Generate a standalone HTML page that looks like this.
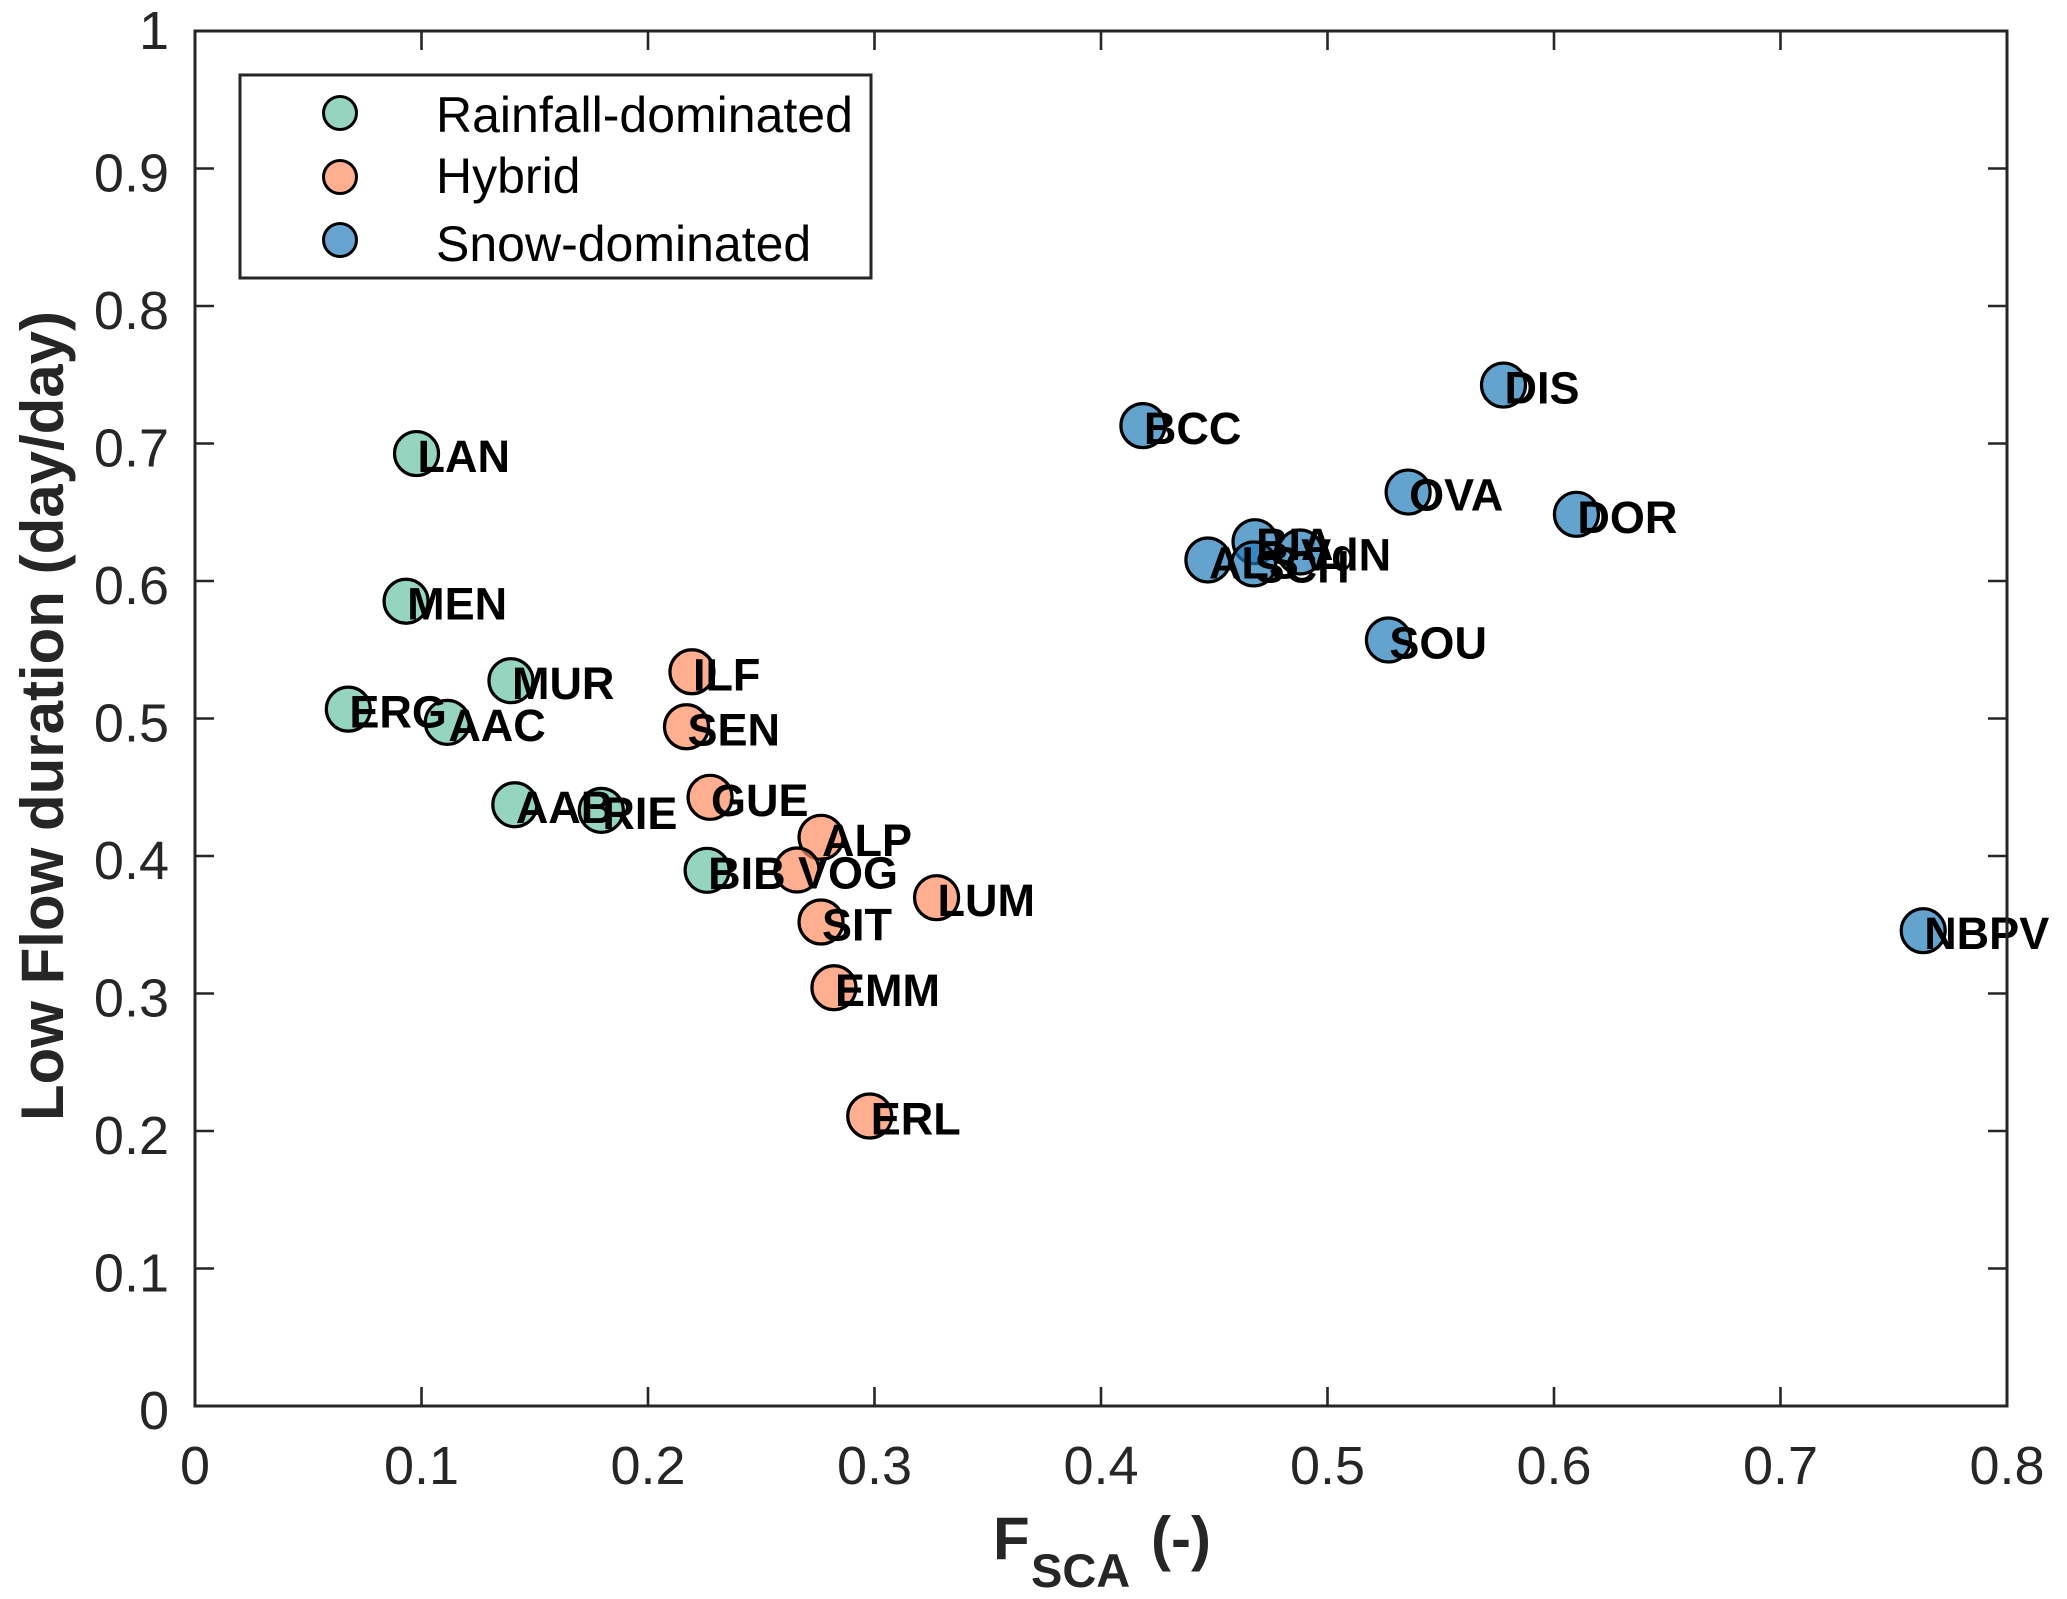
<!DOCTYPE html>
<html lang="en">
<head>
<meta charset="utf-8">
<title>Low Flow duration vs FSCA</title>
<style>
html,body{margin:0;padding:0;background:#fff;}
svg{display:block;font-family:"Liberation Sans",Arial,sans-serif;}
</style>
</head>
<body>
<svg id="chart" xmlns="http://www.w3.org/2000/svg" width="2067" height="1599" viewBox="0 0 2067 1599">
  <rect x="0" y="0" width="2067" height="1599" fill="#ffffff"/>
  <g id="ticks"></g>
  <g id="tick-labels"></g>
  <g id="marks"></g>
  <g id="labels"></g>
  <rect x="195" y="31" width="1812" height="1375" fill="none" stroke="#262626" stroke-width="3"/>
  <text transform="translate(63 716) rotate(-90)" text-anchor="middle" font-size="60" font-weight="700" fill="#262626">Low Flow duration (day/day)</text>
  <g font-weight="700" fill="#262626">
    <text x="993" y="1559" font-size="60">F</text>
    <text x="1031" y="1587" font-size="47">SCA</text>
    <text x="1151" y="1559" font-size="60">(-)</text>
  </g>
  <g>
    <rect x="240" y="75" width="631" height="203" fill="#ffffff" stroke="#262626" stroke-width="3"/>
    <g>
      <circle cx="340" cy="113" r="16.5" fill="#95d5bf" stroke="#000" stroke-width="3"/>
      <text x="436" y="132" font-size="50" fill="#000">Rainfall-dominated</text>
    </g>
    <g>
      <circle cx="340" cy="177" r="16.5" fill="#ffae90" stroke="#000" stroke-width="3"/>
      <text x="436" y="193" font-size="50" fill="#000">Hybrid</text>
    </g>
    <g>
      <circle cx="340" cy="240" r="16.5" fill="#66a3cf" stroke="#000" stroke-width="3"/>
      <text x="436" y="261" font-size="50" fill="#000">Snow-dominated</text>
    </g>
  </g>
</svg>
<script>
const xTickLabels = ['0', '0.1', '0.2', '0.3', '0.4', '0.5', '0.6', '0.7', '0.8'];
const yTickLabels = ['0', '0.1', '0.2', '0.3', '0.4', '0.5', '0.6', '0.7', '0.8', '0.9', '1'];

const rainfallNames = ['LAN', 'MEN', 'MUR', 'ERG', 'AAC', 'AAB', 'RIE', 'BIB'];
const rainfallFsca = [0.0978, 0.0932, 0.1395, 0.0677, 0.1114, 0.1412, 0.1794, 0.2261];
const rainfallLowFlow = [0.6927, 0.5853, 0.5275, 0.5068, 0.4972, 0.4373, 0.4332, 0.3896];

const hybridNames = ['ILF', 'SEN', 'GUE', 'ALP', 'VOG', 'LUM', 'SIT', 'EMM', 'ERL'];
const hybridFsca = [0.2194, 0.217, 0.2274, 0.2764, 0.2658, 0.3274, 0.2764, 0.2821, 0.2979];
const hybridLowFlow = [0.534, 0.494, 0.4427, 0.4136, 0.3898, 0.3697, 0.352, 0.3042, 0.2109];

const snowNames = ['BCC', 'DIS', 'OVA', 'DOR', 'BIA', 'VdN', 'ALS', 'SCH', 'SOU', 'NBPV'];
const snowFsca = [0.4185, 0.5777, 0.5356, 0.6099, 0.468, 0.4879, 0.4472, 0.4674, 0.5269, 0.763];
const snowLowFlow = [0.713, 0.7425, 0.6647, 0.6485, 0.6286, 0.6211, 0.6153, 0.6124, 0.5571, 0.3457];

const NS = 'http://www.w3.org/2000/svg';
const plotLeft = 195, plotRight = 2007, plotTop = 31, plotBottom = 1406;
const xMax = 0.8, yMax = 1;
function xScale(v) { return plotLeft + (v / xMax) * (plotRight - plotLeft); }
function yScale(v) { return plotBottom - (v / yMax) * (plotBottom - plotTop); }

function make(tag, attrs, parent) {
  const el = document.createElementNS(NS, tag);
  for (const k in attrs) el.setAttribute(k, attrs[k]);
  parent.appendChild(el);
  return el;
}

const tickGroup = document.getElementById('ticks');
const tickLabelGroup = document.getElementById('tick-labels');
const tickLen = 19;

xTickLabels.forEach(function (label) {
  const x = xScale(parseFloat(label));
  const bottomTick = make('line', {x1: x, x2: x, y1: plotBottom, y2: plotBottom - tickLen, stroke: '#262626', 'stroke-width': 2.6}, tickGroup);
  
  
  const topTick = make('line', {x1: x, x2: x, y1: plotTop, y2: plotTop + tickLen, stroke: '#262626', 'stroke-width': 2.6}, tickGroup);
  
  
  const text = make('text', {x: x, y: 1484, 'text-anchor': 'middle', 'font-size': 54, fill: '#262626'}, tickLabelGroup);
  
  
  text.textContent = label;
});

yTickLabels.forEach(function (label) {
  const value = parseFloat(label);
  const y = yScale(value);
  const leftTick = make('line', {x1: plotLeft, x2: plotLeft + tickLen, y1: y, y2: y, stroke: '#262626', 'stroke-width': 2.6}, tickGroup);
  
  
  const rightTick = make('line', {x1: plotRight, x2: plotRight - tickLen, y1: y, y2: y, stroke: '#262626', 'stroke-width': 2.6}, tickGroup);
  
  
  const text = make('text', {x: 169, y: y + (value === yMax ? 18 : 23), 'text-anchor': 'end', 'font-size': 54, fill: '#262626'}, tickLabelGroup);
  
  
  text.textContent = label;
});

const markGroup = document.getElementById('marks');
const labelGroup = document.getElementById('labels');

function drawSeries(names, xs, ys, fill) {
  names.forEach(function (name, i) {
    const cx = xScale(xs[i]);
    const cy = yScale(ys[i]);
    const dot = make('circle', {cx: cx, cy: cy, r: 22, fill: fill, 'fill-opacity': 0.7, stroke: '#000', 'stroke-width': 3.2}, markGroup);
    
    
    const text = make('text', {x: cx + 1, y: cy + 18.5, 'font-size': 45, 'font-weight': 700, fill: '#000'}, labelGroup);
    
    
    text.textContent = name;
  });
}

drawSeries(rainfallNames, rainfallFsca, rainfallLowFlow, 'rgb(104,195,164)');
drawSeries(hybridNames, hybridFsca, hybridLowFlow, 'rgb(255,139,96)');
drawSeries(snowNames, snowFsca, snowLowFlow, 'rgb(36,124,186)');
</script>
</body>
</html>
